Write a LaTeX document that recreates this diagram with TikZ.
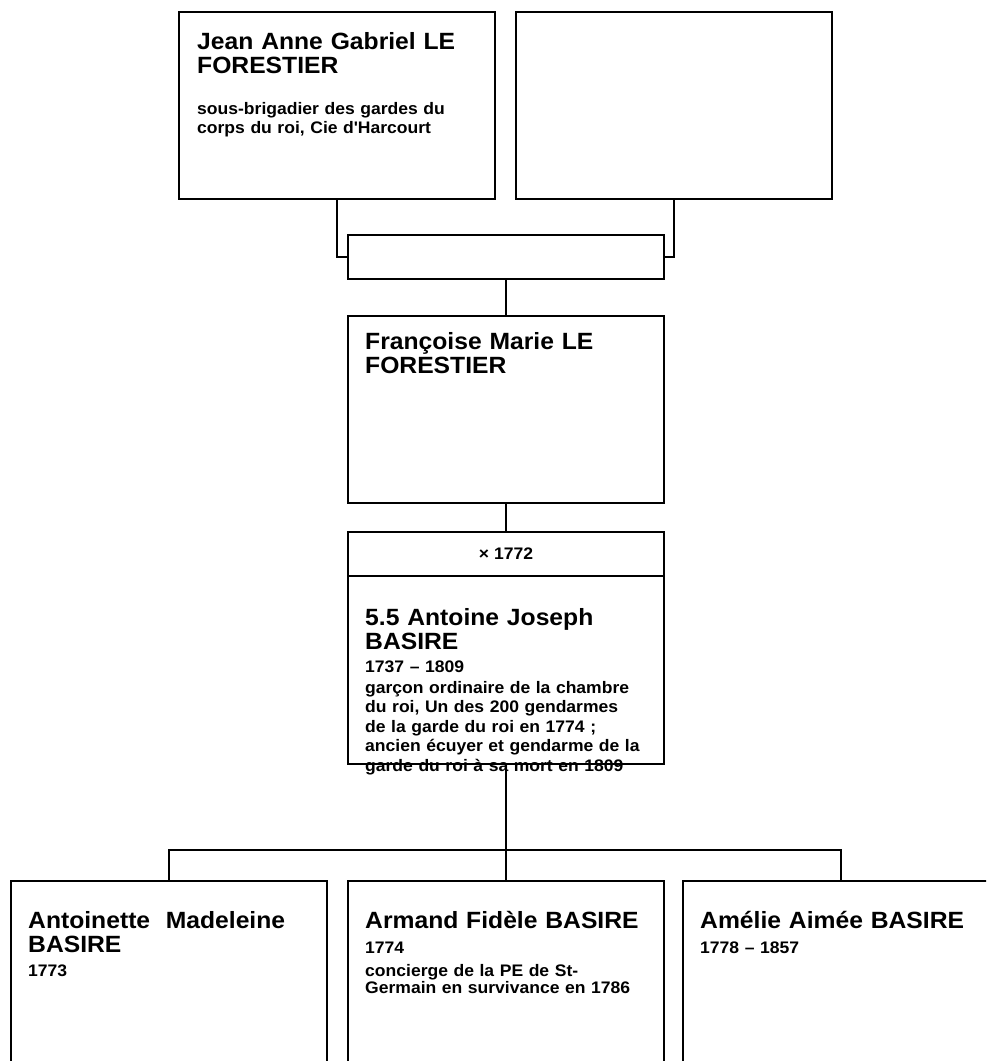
\documentclass[tikz,border=0pt]{standalone}
\usepackage{fontspec}
\setmainfont{Liberation Sans}[FakeStretch=1.05]
\usetikzlibrary{calc,positioning}
\tikzset{
  personbox/.style={rectangle, draw=black, line width=2pt,
    anchor=north west, minimum width=316pt, minimum height=#1,
    inner sep=0pt, font=\fontsize{16.7}{19.5}\selectfont\bfseries},
  personbox/.default=187pt,
  nametext/.style={anchor=base west, inner sep=0pt, text width=295pt,
    align=left, font=\fontsize{23.5}{24}\selectfont\bfseries},
  infotext/.style={anchor=base west, inner sep=0pt, text width=300pt,
    align=left, font=\fontsize{16.7}{#1}\selectfont\bfseries},
  infotext/.default=19.5pt,
  link/.style={draw=black, line width=2pt},
}
\begin{document}
\begin{tikzpicture}[x=1pt, y=-1pt]
    \useasboundingbox (0,0) rectangle (986,1061);
    \clip (0,0) rectangle (986,1061);
    % parents
    \node[personbox] (jean) at (178,11) {};
    \node[personbox] (spouse) at (515,11) {};
    \node[personbox=44pt] (union) at (347,234) {};
    \node[personbox] (francoise) at (347,315) {};
    % marriage
    \node[personbox=44pt] (wedding) at (347,531) {× 1772};
    \node[personbox=188pt] (antoine) at (347,575) {};
    % children
    \node[personbox] (antoinette) at (10,880) {};
    \node[personbox] (armand) at (347,880) {};
    \node[personbox] (amelie) at (682,880) {};

    \node[nametext] (jeanname) at ($(jean.north west)+(19,38)$)
        {Jean Anne Gabriel LE\\FORESTIER};
    \node[infotext] (jeaninfo) at ($(jean.north west)+(19,103)$)
        {sous-brigadier des gardes du\\corps du roi, Cie d\textquotesingle Harcourt};
    \node[nametext] (francoisename) at ($(francoise.north west)+(18,34)$)
        {Françoise Marie LE\\FORESTIER};
    \node[nametext] (antoinename) at ($(antoine.north west)+(18,50)$)
        {5.5 Antoine Joseph\\BASIRE};
    \node[infotext] (antoineinfo) at ($(antoine.north west)+(18,97)$)
        {1737 – 1809\\[1.5pt]garçon ordinaire de la chambre\\du roi, Un des 200 gendarmes\\
         de la garde du roi en 1774 ;\\ancien écuyer et gendarme de la\\garde du roi à sa mort en 1809};
    \node[nametext] (antoinettename) at ($(antoinette.north west)+(18,48)$)
        {Antoinette~~Madeleine\\BASIRE};
    \node[infotext] (antoinetteinfo) at ($(antoinette.north west)+(18,96)$) {1773};
    \node[nametext] (armandname) at ($(armand.north west)+(18,48)$)
        {Armand Fidèle BASIRE};
    \node[infotext=17pt] (armandinfo) at ($(armand.north west)+(18,73)$)
        {1774\\[6pt]concierge de la PE de St-\\Germain en survivance en 1786};
    \node[nametext] (ameliename) at ($(amelie.north west)+(18,48)$)
        {Amélie Aimée BASIRE};
    \node[infotext] (amelieinfo) at ($(amelie.north west)+(18,73)$) {1778 – 1857};

    \draw[link] (jean.south) |- (union.west);
    \draw[link] (spouse.south) |- (union.east);
    \draw[link] (union.south) -- (francoise.north);
    \draw[link] (francoise.south) -- (wedding.north);
    \draw[link] (antoine.south) -- (armand.north);
    \draw[link] (antoinette.north) -- ++(0,-30) -| (amelie.north);
\end{tikzpicture}
\end{document}
